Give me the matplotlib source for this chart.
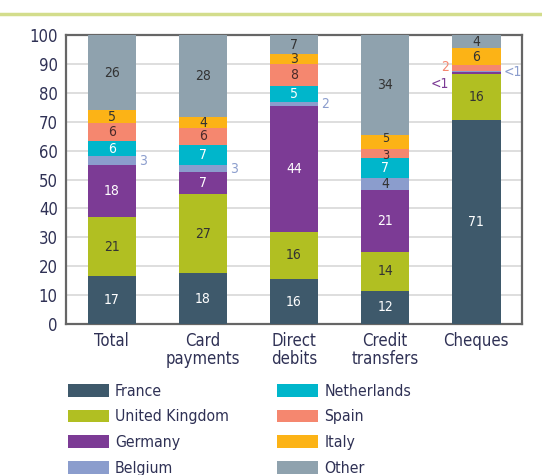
import matplotlib.pyplot as plt
import numpy as np
from matplotlib.lines import Line2D
from matplotlib import font_manager as fm

# condensed face if available, otherwise the narrower Liberation Sans
_f = fm.findfont(fm.FontProperties(family='DejaVu Sans', stretch='condensed'))
if 'Condensed' in _f:
    plt.rcParams['font.family'] = ['DejaVu Sans']
    plt.rcParams['font.stretch'] = 'condensed'
else:
    plt.rcParams['font.family'] = ['Liberation Sans', 'DejaVu Sans']

# categories and shares (%), bottom to top
categories = ['Total', 'Card\npayments', 'Direct\ndebits', 'Credit\ntransfers', 'Cheques']
countries = ['France', 'United Kingdom', 'Germany', 'Belgium',
             'Netherlands', 'Spain', 'Italy', 'Other']

france = [16.5, 17.5, 15.5, 11.5, 70.5]
uk = [20.5, 27.5, 16.5, 13.5, 16]
germany = [18, 7.5, 43.5, 21.5, 0.7]
belgium = [3, 2.5, 1.5, 4, 0.3]
netherlands = [5.5, 7, 5.5, 7, 0]
spain = [6, 6, 7.5, 3, 2]
italy = [4.5, 3.5, 3.5, 5, 6]
other = [26, 28.5, 6.5, 34.5, 4.5]

# printed labels (None = not printed inside the bar)
lab_france = ['17', '18', '16', '12', '71']
lab_uk = ['21', '27', '16', '14', '16']
lab_germany = ['18', '7', '44', '21', None]
lab_belgium = [None, None, None, '4', None]
lab_netherlands = ['6', '7', '5', '7', None]
lab_spain = ['6', '6', '8', '3', None]
lab_italy = ['5', '4', '3', '5', '6']
lab_other = ['26', '28', '7', '34', '4']

# labels printed beside the bars: (category, series, text, side)
outside = [(0, 3, '3', 'right'), (1, 3, '3', 'right'), (2, 3, '2', 'right'),
           (4, 2, '<1', 'left'), (4, 3, '<1', 'right'), (4, 5, '2', 'left')]

series = [france, uk, germany, belgium, netherlands, spain, italy, other]
labels = [lab_france, lab_uk, lab_germany, lab_belgium, lab_netherlands,
          lab_spain, lab_italy, lab_other]
colors = ['#3e596b', '#b1bf22', '#7c3b95', '#8b9dcd', '#00b6cb', '#f5876f', '#fcb316', '#8fa2ae']
txt_colors = ['white', '#333333', 'white', '#333333', 'white', '#4a2a2a', '#333333', '#333333']
out_dy = {(4, 2): -8, (4, 3): 0, (4, 5): 1}
in_dy = {(3, 5): -1.5, (3, 6): 2.5}  # nudge crowded labels (points)

fig = plt.figure(figsize=(5.42, 4.75), dpi=100)
ax = fig.add_axes([0.122, 0.318, 0.841, 0.608])

x = np.arange(len(categories))
w = 0.53
bottom = np.zeros(len(categories))
for si, (vals, labs, c, tc, name) in enumerate(zip(series, labels, colors, txt_colors, countries)):
    vals = np.array(vals, dtype=float)
    ax.bar(x, vals, w, bottom=bottom, color=c, label=name, zorder=3)
    for i, t in enumerate(labs):
        if t is not None:
            ax.annotate(t, (x[i], bottom[i] + vals[i] / 2), xytext=(0, in_dy.get((i, si), 0)),
                        textcoords='offset points', ha='center', va='center',
                        color=tc, fontsize=10 if (i, si) not in in_dy else 9, zorder=4)
    bottom += vals

cum = np.cumsum(np.array(series, dtype=float), axis=0)
for ci, si, t, side in outside:
    yc = cum[si][ci] - series[si][ci] / 2
    dx = w / 2 + 0.03
    xp = x[ci] + dx if side == 'right' else x[ci] - dx
    ax.annotate(t, (xp, yc), xytext=(0, out_dy.get((ci, si), 0)), textcoords='offset points',
                ha='left' if side == 'right' else 'right', va='center',
                color=colors[si], fontsize=10, zorder=4)

ax.set_xlim(-0.5, 4.5)
ax.set_ylim(0, 100)
ax.set_yticks(np.arange(0, 101, 10))
ax.set_xticks(x)
ax.set_xticklabels(categories, linespacing=1.0)
ax.tick_params(length=0, labelsize=12, colors='#2f3155', pad=6)
ax.yaxis.grid(True, color='#d5d5d5', linewidth=1.1, zorder=0)
for s in ax.spines.values():
    s.set_color('#666666')
    s.set_linewidth(1.6)

# green rule at top
fig.add_artist(Line2D([0, 1], [0.971, 0.971], color='#d3dd8c', linewidth=2.5))

fig.legend(loc='upper left', bbox_to_anchor=(0.125, 0.192), ncol=2, frameon=False,
           fontsize=11.3, handlelength=2.6, handleheight=0.85, handletextpad=0.4,
           labelspacing=0.68, columnspacing=3.1, borderpad=0, borderaxespad=0,
           labelcolor='#2f3155')

fig.savefig('out.png', dpi=100)
